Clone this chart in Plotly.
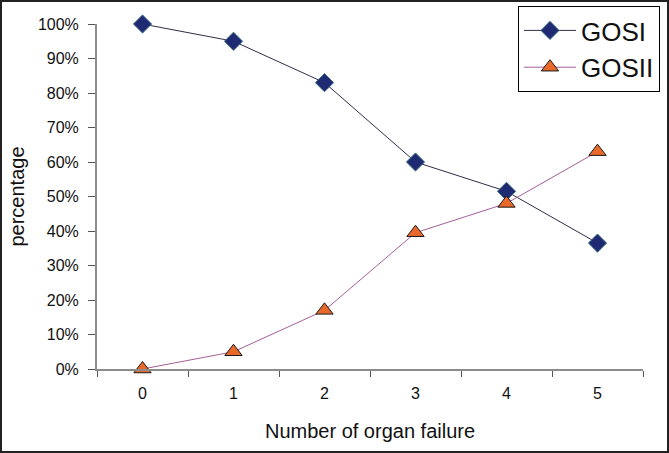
import plotly.graph_objects as go

categories = ["0", "1", "2", "3", "4", "5"]
gosi = [100, 95, 83, 60, 51.5, 36.5]
gosii = [0, 5, 17, 39.5, 48, 63]
y_ticks = [0, 10, 20, 30, 40, 50, 60, 70, 80, 90, 100]
y_tick_labels = [f"{v}%" for v in y_ticks]

FONT = "Liberation Sans, Arial, sans-serif"

fig = go.Figure()
fig.add_trace(go.Scatter(
    x=categories, y=gosi, name="GOSI", mode="lines+markers",
    line=dict(color="#2e2e48", width=1),
    marker=dict(symbol="diamond", size=14, color="#1f2a72",
                line=dict(color="#3d6f80", width=1)),
    cliponaxis=False, legendgroup="a",
))
fig.add_trace(go.Scatter(
    x=categories, y=gosii, name="GOSII", mode="lines+markers",
    line=dict(color="#a45f98", width=1),
    marker=dict(symbol="triangle-up", size=15, color="#e8692a",
                line=dict(color="#1a1a1a", width=1)),
    cliponaxis=False, legendgroup="b",
))

L, R, T, B = 97, 26, 24, 84
W, H = 669, 453
pw, ph = W - L - R, H - T - B

fig.update_layout(
    width=W, height=H,
    margin=dict(l=L, r=R, t=T, b=B, pad=0, autoexpand=False),
    paper_bgcolor="white", plot_bgcolor="white",
    font=dict(family=FONT, color="#111111"),
    showlegend=True,
    legend=dict(
        x=(518 - L) / pw, y=(H - B - 6) / ph, xanchor="left", yanchor="top",
        bordercolor="#000000", borderwidth=1, bgcolor="white",
        font=dict(size=26, family=FONT), tracegroupgap=0, itemwidth=52,
        entrywidth=100,
    ),
    xaxis=dict(
        type="category", range=[-0.5, 5.5], tickson="boundaries",
        showgrid=False, zeroline=False,
        showline=True, linecolor="#8c8c8c", linewidth=2,
        ticks="outside", ticklen=6, tickcolor="#555555", tickwidth=1,
        tickfont=dict(size=16, family=FONT), ticklabelstandoff=9,
        title=dict(text="Number of organ failure", font=dict(size=20, family=FONT), standoff=23),
    ),
    yaxis=dict(
        range=[0, 100], tickvals=y_ticks, ticktext=y_tick_labels,
        showgrid=False, zeroline=False,
        showline=True, linecolor="#8c8c8c", linewidth=2,
        ticks="outside", ticklen=7, tickcolor="#555555", tickwidth=1,
        tickfont=dict(size=16, family=FONT), ticklabelstandoff=6,
        title=dict(text="percentage", font=dict(size=20, family=FONT), standoff=8),
    ),
    shapes=[dict(
        type="rect", xref="paper", yref="paper",
        x0=(1 - L) / pw, x1=(W - 1 - L) / pw,
        y0=(H - B - (H - 1)) / ph, y1=(H - B - 1) / ph,
        line=dict(color="#222222", width=2), layer="below",
    )],
)

fig.write_html("out.html", config={"displayModeBar": False},
               post_script="document.body.style.margin='0px';")
